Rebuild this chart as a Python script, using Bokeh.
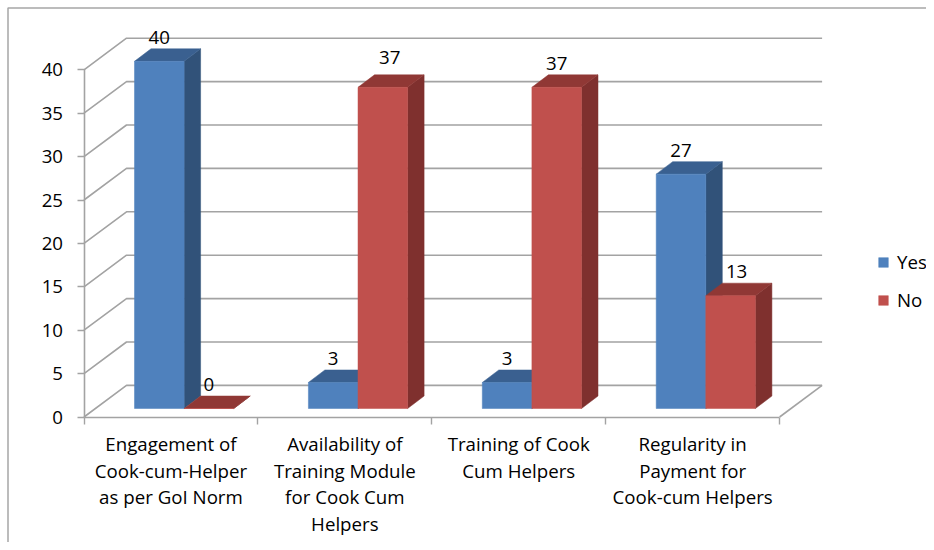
import numpy as np
from bokeh.core.properties import value
from bokeh.embed import file_html
from bokeh.models import ColumnDataSource, FixedTicker, Legend, LegendItem
from bokeh.plotting import figure
from bokeh.resources import INLINE

# ---- data ----
categories = [
    "Engagement of\nCook-cum-Helper\nas per GoI Norm",
    "Availability of\nTraining Module\nfor Cook Cum\nHelpers",
    "Training of Cook\nCum Helpers",
    "Regularity in\nPayment for\nCook-cum Helpers",
]
yes_values = [40, 3, 3, 27]
no_values = [0, 37, 37, 13]
y_ticks = [0, 5, 10, 15, 20, 25, 30, 35, 40]
series_names = ["Yes", "No"]

# ---- styles ----
FONT = "Open Sans"
FS = "18.7px"
GRID = "#a3a3a3"
BORDER = "#a6a6a6"
COL = {
    "Yes": ("#4F81BD", "#3A6090", "#315279"),
    "No": ("#C0504D", "#903835", "#7F302E"),
}

# ---- layout: picture pixels per data unit ----
PX_X = 173.9    # one category
PX_Y = 8.68     # one value unit
ORG_X, ORG_Y = 83.5, 416.5   # picture position of (0, 0)
PAGE_L, PAGE_T, PAGE_R, PAGE_B = 0, 0, 926, 542

WALL_DX, WALL_DY = 42.5 / PX_X, 31.6 / PX_Y     # depth of the floor
BAR_X0 = (134.0 - ORG_X) / PX_X                 # first bar start inside a category
BAR_W = 49.6 / PX_X
BAR_Y0 = (416.5 - 408.0) / PX_Y                 # bar inset into the floor
BAR_DX, BAR_DY = 16.5 / PX_X, 12.5 / PX_Y       # depth of a bar

x_start, x_end = (PAGE_L - ORG_X) / PX_X, (PAGE_R - ORG_X) / PX_X
y_start, y_end = (ORG_Y - PAGE_B) / PX_Y, (ORG_Y - PAGE_T) / PX_Y

p = figure(
    width=PAGE_R - PAGE_L, height=PAGE_B - PAGE_T,
    x_range=(x_start, x_end), y_range=(y_start, y_end),
    output_backend="svg", toolbar_location=None,
    min_border=0, title=None,
)
p.grid.visible = False
p.outline_line_color = None
p.background_fill_color = "white"

# chart border: top and left
bx_l = (7.5 - ORG_X) / PX_X
by_t = (ORG_Y - 7.5) / PX_Y
p.line([bx_l, bx_l, x_end], [y_start, by_t, by_t], line_color=BORDER, line_width=1.5)

# walls and floor
n = len(categories)
for t in y_ticks:
    p.line([0, WALL_DX, n + WALL_DX], [t, t + WALL_DY, t + WALL_DY], line_color=GRID, line_width=1.6)
p.line([n, n + WALL_DX], [0, WALL_DY], line_color=GRID, line_width=1.6)


def faces(vals, idx):
    xs = np.arange(len(vals)) + BAR_X0 + idx * BAR_W
    return xs, xs + BAR_W, np.full(len(vals), BAR_Y0), np.array(vals, float) + BAR_Y0


# bars, series by series, back parts first so that the right bar covers the left one
front_renderers = []
for idx, (name, vals) in enumerate(zip(series_names, [yes_values, no_values])):
    c_front, c_top, c_side = COL[name]
    l, r, b, t = faces(vals, idx)
    top_xs = [[a, c, c + BAR_DX, a + BAR_DX] for a, c in zip(l, r)]
    top_ys = [[d, d, d + BAR_DY, d + BAR_DY] for d in t]
    side_xs = [[c, c + BAR_DX, c + BAR_DX, c] for c in r]
    side_ys = [[e, e + BAR_DY, d + BAR_DY, d] for e, d in zip(b, t)]
    p.patches(side_xs, side_ys, fill_color=c_side, line_color=c_side, line_width=0.5)
    p.patches(top_xs, top_ys, fill_color=c_top, line_color=c_top, line_width=0.5)
    rend = p.quad(left=l, right=r, bottom=b, top=t, fill_color=c_front, line_color=c_front, line_width=0.5)
    front_renderers.append(rend)

# data labels
lab_x, lab_y, lab_t, lab_dx = [], [], [], []
nudge = {("No", 1): 7, ("No", 3): 6}
for idx, (name, vals) in enumerate(zip(series_names, [yes_values, no_values])):
    for g, v in enumerate(vals):
        lab_x.append(g + BAR_X0 + (idx + 0.5) * BAR_W)
        lab_y.append(v + BAR_Y0)
        lab_t.append(str(v))
        lab_dx.append(nudge.get((name, g), 0))
lab_dy = [-30 if (d == 7 and t == "37") else -24 for d, t in zip(lab_dx, lab_t)]
p.text(x="x", y="y", text="t", x_offset="dx", y_offset="dy",
       source=ColumnDataSource(dict(x=lab_x, y=lab_y, t=lab_t, dx=lab_dx, dy=lab_dy)),
       text_font=value(FONT), text_font_size=value(FS), text_color="black",
       text_align="center", text_baseline="middle")

# category labels, line by line
cx, cy, ct, co = [], [], [], []
for g, cat in enumerate(categories):
    for i, line in enumerate(cat.split("\n")):
        cx.append(g + 0.5)
        cy.append(0)
        ct.append(line)
        co.append(26.5 + 26.7 * i)
p.text(x="x", y="y", text="t", y_offset="o",
       source=ColumnDataSource(dict(x=cx, y=cy, t=ct, o=co)),
       text_font=value(FONT), text_font_size=value(FS), text_color="black",
       text_align="center", text_baseline="middle")

# axes at the front edge of the floor
ax = p.yaxis[0]
ax.fixed_location = 0
ax.bounds = (0, 40)
ax.ticker = FixedTicker(ticks=y_ticks)
ax.axis_line_color = GRID
ax.axis_line_width = 1.6
ax.major_tick_line_color = GRID
ax.major_tick_line_width = 1.4
ax.major_tick_in = 0
ax.major_tick_out = 7
ax.minor_tick_line_color = None
ax.major_label_standoff = 14
ax.major_label_text_font = FONT
ax.major_label_text_font_size = FS
ax.major_label_text_color = "black"

bx = p.xaxis[0]
bx.fixed_location = 0
bx.bounds = (0, n)
bx.ticker = FixedTicker(ticks=list(range(n + 1)))
bx.axis_line_color = GRID
bx.axis_line_width = 1.6
bx.major_tick_line_color = GRID
bx.major_tick_line_width = 1.4
bx.major_tick_in = 0
bx.major_tick_out = 7
bx.minor_tick_line_color = None
bx.major_label_overrides = {i: "" for i in range(n + 1)}

# legend
legend = Legend(
    items=[LegendItem(label=nm, renderers=[r]) for nm, r in zip(series_names, front_renderers)],
    location=(877, 542 - 312),
    orientation="vertical",
    background_fill_alpha=0, border_line_color=None,
    glyph_width=12, glyph_height=12, label_standoff=8,
    label_height=20, spacing=13, padding=0, margin=0,
    label_text_font=FONT, label_text_font_size=FS, label_text_color="black",
)
p.add_layout(legend, "center")

open("out.html", "w").write(file_html(p, INLINE))
